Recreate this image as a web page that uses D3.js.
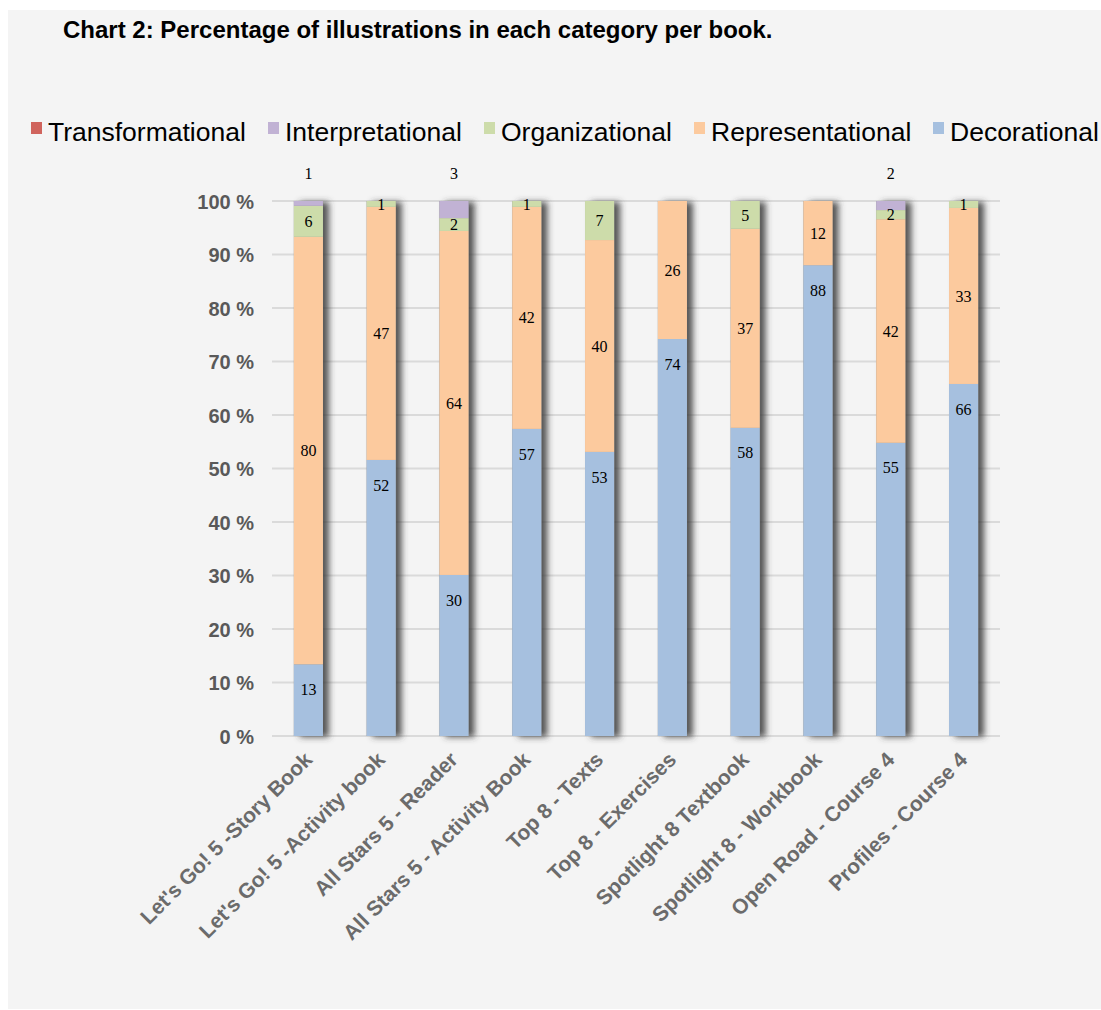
<!DOCTYPE html>
<html>
<head>
<meta charset="utf-8">
<script src="https://cdn.jsdelivr.net/npm/d3@7"></script>
<style>
  html, body { margin: 0; padding: 0; background: #ffffff; }
  svg { display: block; }
</style>
</head>
<body>
<svg id="chart" width="1101" height="1010"></svg>
<script>
// ---------------- DATA ----------------
const books = [
  "Let's Go! 5 -Story Book",
  "Let's Go! 5 -Activity book",
  "All Stars 5 - Reader",
  "All Stars 5 - Activity Book",
  "Top 8 - Texts",
  "Top 8 - Exercises",
  "Spotlight 8 Textbook",
  "Spotlight 8 - Workbook",
  "Open Road - Course 4",
  "Profiles - Course 4"
];
const seriesNames = ["Decorational", "Representational", "Organizational", "Interpretational", "Transformational"];
const legendOrder = ["Transformational", "Interpretational", "Organizational", "Representational", "Decorational"];

const decorational     = [13.4, 51.6, 30.1, 57.4, 53.1, 74.2, 57.6, 88.0, 54.8, 65.8];
const representational = [79.9, 47.3, 64.3, 41.5, 39.6, 25.8, 37.2, 12.0, 41.8, 32.9];
const organizational   = [ 5.8,  1.1,  2.4,  1.1,  7.3,  0.0,  5.2,  0.0,  1.7,  1.3];
const interpretational = [ 0.9,  0.0,  3.2,  0.0,  0.0,  0.0,  0.0,  0.0,  1.7,  0.0];
const transformational = [ 0,    0,    0,    0,    0,    0,    0,    0,    0,    0  ];

const yTicks = [0, 10, 20, 30, 40, 50, 60, 70, 80, 90, 100];
const title = "Chart 2: Percentage of illustrations in each category per book.";

// ---------------- STYLE ----------------
const colors = {
  Decorational: "#a6c0df",
  Representational: "#fcca9e",
  Organizational: "#cddcaa",
  Interpretational: "#c1b2d4",
  Transformational: "#d0645d"
};
const legendX = [31, 268, 484, 694, 933];

const table = books.map((b, i) => ({
  book: b,
  Decorational: decorational[i],
  Representational: representational[i],
  Organizational: organizational[i],
  Interpretational: interpretational[i],
  Transformational: transformational[i]
}));

const svg = d3.select("#chart");

// background panel
svg.append("rect").attr("x", 8).attr("y", 10).attr("width", 1093).attr("height", 999).attr("fill", "#f4f4f4");

// shadow filter
const defs = svg.append("defs");
const f = defs.append("filter").attr("id", "shadow").attr("x", "-30%").attr("y", "-5%").attr("width", "200%").attr("height", "110%");
f.append("feDropShadow").attr("dx", 6).attr("dy", 1).attr("stdDeviation", 3)
  .attr("flood-color", "#3a3a3a").attr("flood-opacity", 0.85);

// title
svg.append("text").attr("x", 63).attr("y", 38)
  .attr("font-family", "Liberation Sans, Arial, sans-serif").attr("font-weight", "bold")
  .attr("font-size", 24).attr("fill", "#000").text(title);

// scales
const x = d3.scaleBand().domain(books).range([272, 1000]).paddingInner(0.6).paddingOuter(0.3);
const y = d3.scaleLinear().domain([0, 100]).range([736, 201]);

// gridlines
svg.append("g").selectAll("line").data(yTicks).join("line")
  .attr("x1", 272).attr("x2", 1000)
  .attr("y1", d => y(d)).attr("y2", d => y(d))
  .attr("stroke", "#dadada").attr("stroke-width", 2);

// y axis
const yAxis = d3.axisLeft(y).tickValues(yTicks).tickSize(0).tickPadding(0).tickFormat(d => d + " %");
const gy = svg.append("g").attr("transform", "translate(254,0)").call(yAxis);
gy.select(".domain").remove();
gy.selectAll("text").attr("font-family", "Liberation Sans, Arial, sans-serif")
  .attr("font-weight", "bold").attr("font-size", 20).attr("fill", "#595959").attr("dy", "0.35em");

// x axis labels
const xAxis = d3.axisBottom(x).tickSize(0).tickPadding(0);
const gx = svg.append("g").attr("transform", "translate(0,736)").call(xAxis);
gx.select(".domain").remove();
gx.selectAll("text")
  .attr("font-family", "Liberation Sans, Arial, sans-serif").attr("font-weight", "bold")
  .attr("font-size", 21).attr("fill", "#6b6b6b")
  .attr("text-anchor", "end").attr("dy", 0).attr("y", 0)
  .attr("transform", "translate(5,25) rotate(-45)");

// stack
const stack = d3.stack().keys(seriesNames);
const layers = stack(table);

const gShadow = svg.append("g");
const gBars = svg.append("g");
layers.forEach(layer => {
  gBars.append("g").attr("fill", colors[layer.key])
    .selectAll("rect").data(layer.filter(d => d[1] - d[0] > 0)).join("rect")
    .attr("x", d => x(d.data.book))
    .attr("width", x.bandwidth())
    .attr("y", d => y(d[1]))
    .attr("height", d => y(d[0]) - y(d[1]));
});
const totals = table.map(d => seriesNames.reduce((s, k) => s + d[k], 0));
gShadow.selectAll("rect").data(table).join("rect")
  .attr("x", d => x(d.book))
  .attr("width", x.bandwidth())
  .attr("y", (d, i) => y(Math.min(totals[i], 100)))
  .attr("height", (d, i) => y(0) - y(Math.min(totals[i], 100)))
  .attr("fill", "#888").attr("filter", "url(#shadow)");

// value labels
const gLab = svg.append("g").attr("font-family", "Liberation Serif, Times New Roman, serif")
  .attr("font-size", 16).attr("fill", "#000").attr("text-anchor", "middle");
layers.forEach(layer => {
  gLab.selectAll(null).data(layer.filter(d => d[1] - d[0] > 0)).join("text")
    .attr("x", d => x(d.data.book) + x.bandwidth() / 2)
    .attr("y", d => {
      if (layer.key === "Interpretational") return y(100) - 28;
      if (layer.key === "Decorational") return y(d[1]) + 25;
      return (y(d[0]) + y(d[1])) / 2;
    })
    .attr("dy", "0.35em")
    .text(d => Math.round(d[1] - d[0]));
});

// legend
const gLeg = svg.append("g").attr("font-family", "Liberation Sans, Arial, sans-serif").attr("font-size", 26.5);
legendOrder.forEach((name, i) => {
  gLeg.append("rect").attr("x", legendX[i]).attr("y", 122).attr("width", 11).attr("height", 12).attr("fill", colors[name]);
  gLeg.append("text").attr("x", legendX[i] + 17).attr("y", 141).attr("fill", "#000").text(name);
});
</script>
</body>
</html>
